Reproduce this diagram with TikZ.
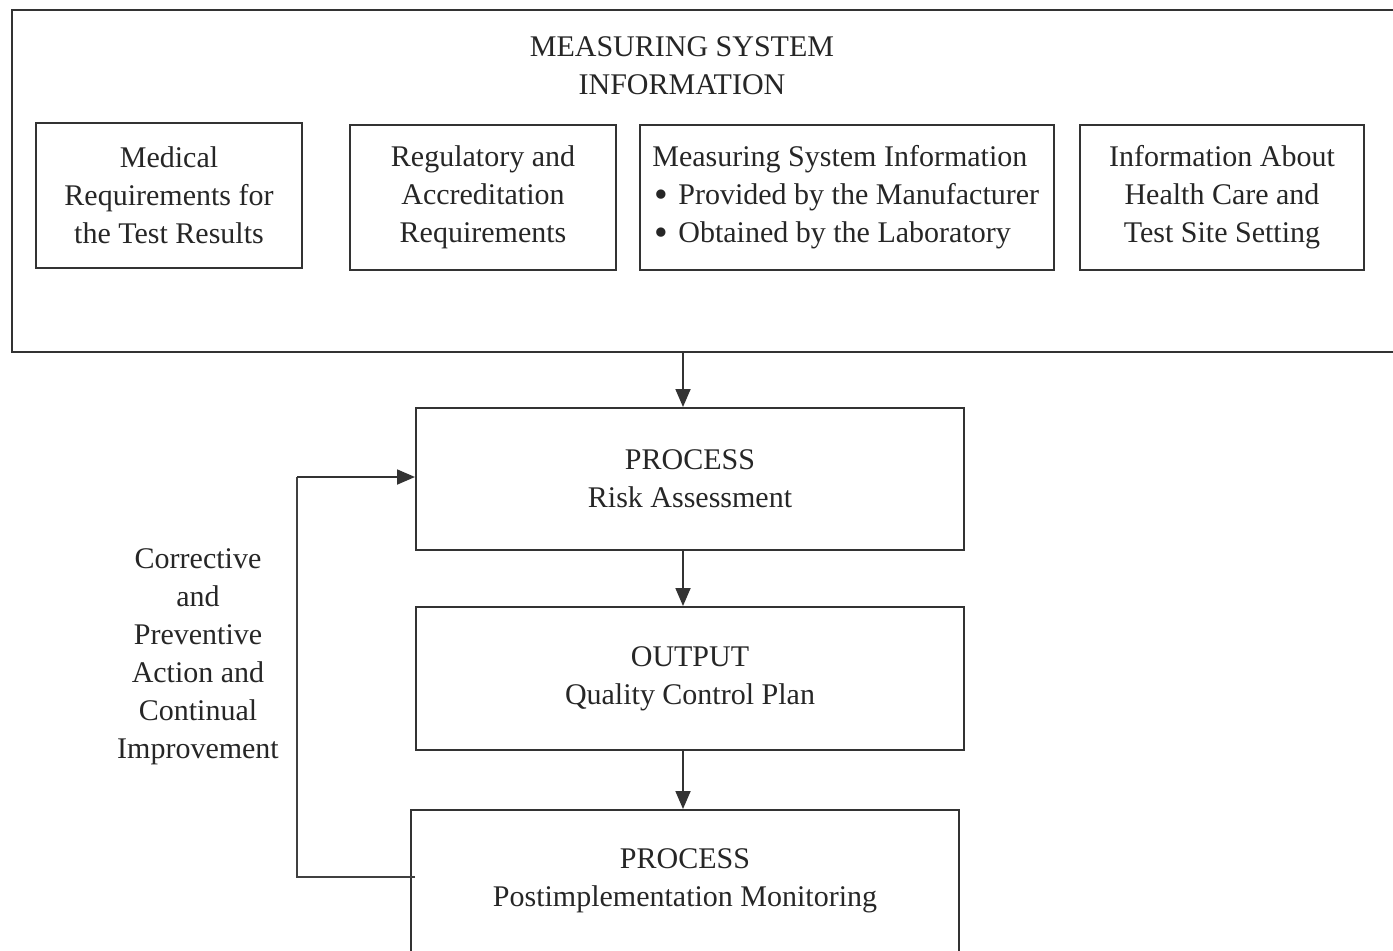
\documentclass[tikz,border=0pt]{standalone}
\usepackage{fontspec}
\setmainfont{Liberation Serif}
\usetikzlibrary{arrows.meta}
\newcommand{\bigbul}{\makebox[12pt][l]{\raisebox{-1.4pt}{\scalebox{1.3}{\textbullet}}}}
\begin{document}
\begin{tikzpicture}[x=0.5pt,y=-0.5pt,
  every node/.style={font=\fontsize{15pt}{19pt}\selectfont, text=black!85},
  box/.style={draw=black!80, line width=1pt, align=center, inner sep=0pt},
  arr/.style={draw=black!80, line width=0.9pt, -{Triangle[length=9pt,width=7.5pt]}},
  fbline/.style={draw=black!75, line width=0.9pt}]
\useasboundingbox (0,0) rectangle (1393,950);
\clip (0,0) rectangle (1393,950);
% outer frame
\draw[draw=black!80, line width=1pt] (12,10) rectangle (1420,352);
\node[align=center] (title) at (682,66) {MEASURING SYSTEM\\INFORMATION};
\node[box, minimum width=133pt, minimum height=72.5pt] (b1) at (169,195.5)
  {Medical\\Requirements for\\the Test Results};
\node[box, minimum width=133pt, minimum height=72.5pt] (b2) at (483,197.5)
  {Regulatory and\\Accreditation\\Requirements};
\node[box, minimum width=207pt, minimum height=72.5pt] (b3) at (847,197.5) {};
\node[align=left, anchor=west, inner sep=0pt] (b3t) at (652,197)
  {Measuring System Information\\
   \hspace*{1pt}\bigbul Provided by the Manufacturer\\
   \hspace*{1pt}\bigbul Obtained by the Laboratory};
\node[box, minimum width=142pt, minimum height=72.5pt] (b4) at (1222,197.5)
  {Information About\\Health Care and\\Test Site Setting};
\coordinate (top) at (683,352);
% process boxes
\node[box, minimum width=274pt, minimum height=71pt] (R) at (690,479)
  {PROCESS\\Risk Assessment};
\node[box, minimum width=274pt, minimum height=71.5pt] (O) at (690,678.5)
  {OUTPUT\\Quality Control Plan};
\node[box, minimum width=274pt, minimum height=71pt] (P) at (685,881)
  {PROCESS\\Postimplementation Monitoring};
\draw[arr] (top) -- (top |- R.north);
\draw[arr] (R.south -| top) -- (O.north -| top);
\draw[arr] (O.south -| top) -- (P.north -| top);
% feedback loop
\coordinate (fb) at (297,877);
\coordinate (fbt) at (297,477);
\draw[fbline] ([xshift=2.5pt]P.west |- fb) -- (fb) -- (fbt);
\draw[arr] (fbt) -- (R.west |- fbt);
\node[align=center] (lab) at (198,657)
  {Corrective\\and\\Preventive\\Action and\\Continual\\Improvement};
\end{tikzpicture}
\end{document}
